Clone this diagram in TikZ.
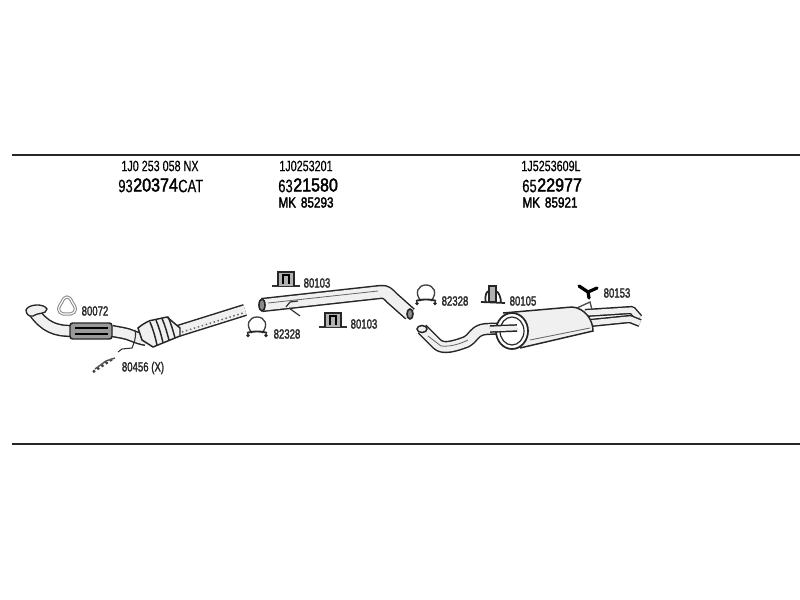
\documentclass[tikz,border=0pt]{standalone}
\usepackage{fontspec}
\setmainfont{Liberation Sans}
\newfontfamily\narrowfont[FakeStretch=0.72,FakeBold=0.3]{Liberation Sans}
\newfontfamily\narrowbold[FakeStretch=0.72,FakeBold=1.6]{Liberation Sans}
\newfontfamily\widebold[FakeStretch=0.86,FakeBold=2.2]{Liberation Sans}
\newfontfamily\marcafont[FakeStretch=0.8,FakeBold=2]{Liberation Sans}
\tikzstyle{numero}=[inner sep=0pt,font=\narrowfont\fontsize{11.2}{12}\selectfont]
\tikzstyle{pieza}=[inner sep=0pt,font=\narrowbold\fontsize{10}{12}\selectfont,text=black!85]
\tikzstyle{pedido}=[inner sep=0pt,font=\narrowfont\fontsize{13.5}{15}\selectfont]
\tikzstyle{grande}=[inner sep=0pt,font=\widebold\fontsize{14}{15}\selectfont]
\tikzstyle{marca}=[inner sep=0pt,font=\marcafont\fontsize{11}{12}\selectfont]
\tikzstyle{tubo}=[draw=black!85,line width=1.1pt,double=black!6,double distance=7pt,line join=round]
\tikzstyle{raya}=[black!60,line width=0.6pt]
\tikzset{
  abrazadera/.pic={
    \draw [black!75,line width=1pt] (-5,5) .. controls (-12,-3) and (-8,-11) .. (0,-11) .. controls (8,-11) and (12,-3) .. (5,5);
    \draw [black!85,line width=1.4pt] (-10,5) .. controls (-5,3) and (5,3) .. (10,5);
    \fill [black!85] (-9,7.5) circle (1.8) (9,7.5) circle (1.8);
  },
  soporte/.pic={
    \draw [black!80,line width=1.2pt] (-14,7) -- (14,7);
    \draw [black!85,line width=1pt,fill=black!30] (-8,7) -- (-8,-7) -- (8,-7) -- (8,7);
    \draw [black,line width=1.6pt] (-3,5) -- (-3,-4) -- (3,-4) -- (3,5);
  }
}
\begin{document}
\begin{tikzpicture}[x=0.75pt,y=-0.75pt]
    \useasboundingbox [fill=white] (0,0) rectangle (800,600);
    % lines
    \coordinate (topleft) at (12,155);
    \coordinate (topright) at (800,155);
    \coordinate (botleft) at (12,444);
    \coordinate (botright) at (800,444);
    \draw [line width=1.4pt,black!85] (topleft) -- (topright);
    \draw [line width=1.4pt,black!85] (botleft) -- (botright);
    % header texts
    \node [numero] (refcat) at (160,166) {1J0 253 058 NX};
    \node [pedido,anchor=east] (predcat) at (133,186) {93};
    \node [grande,anchor=west] (numcat) at (133,185) {20374};
    \node [pedido,anchor=west] (sufcat) at (178,186) {CAT};
    \node [numero] (refmid) at (306,166) {1J0253201};
    \node [pedido,anchor=east] (predmid) at (293,186) {63};
    \node [grande,anchor=west] (nummid) at (293,185) {21580};
    \node [marca] (mkmid) at (306,202.5) {MK\,\,85293};
    \node [numero] (refrear) at (551,166) {1J5253609L};
    \node [pedido,anchor=east] (predrear) at (537,186) {65};
    \node [grande,anchor=west] (numrear) at (537,185) {22977};
    \node [marca] (mkrear) at (550,202.5) {MK\,\,85921};
    % front pipe with catalyst
    \draw [tubo] (34,312) .. controls (45,327) and (55,331) .. (72,331);
    \draw [black!85,line width=1pt,fill=black!6] (26,310) .. controls (28,304) and (44,303) .. (47,309) .. controls (46,315) and (38,312) .. (33,316) .. controls (29,317) and (26,314) .. (26,310) -- cycle;
    \draw [tubo] (112,331) -- (123,333) .. controls (130,334) and (135,338) .. (146,340);
    \draw [black!85,line width=1.1pt,fill=black!40,rounded corners=2pt] (70,323) rectangle (112,339);
    \draw [black,line width=1.4pt] (75,328) -- (108,328) (75,334) -- (108,334);
    \draw [tubo] (178,331) -- (245,310);
    \draw [black!60,dotted,line width=1.1pt] (182,332) -- (243,313);
    \draw [black!85,line width=1.1pt,fill=black!6] (138,328) .. controls (144,323) and (150,320) .. (153,320) -- (167,317) -- (180,328) -- (180,336) -- (153,347) -- (142,340) -- cycle;
    \foreach \dx in {0,6,12,18} {
      \draw [black!85,line width=1.1pt] (150+\dx,322-0.3*\dx) .. controls (153+\dx,329-0.3*\dx) and (155+\dx,336-0.3*\dx) .. (157+\dx,345-0.4*\dx);
    }
    \draw [black!80,line width=0.8pt] (135,330) .. controls (137,338) and (133,345) .. (132,348) -- (122,349) -- (118,352);
    % middle pipe
    \draw [tubo,double distance=8.5pt] (262,305) -- (380,292) .. controls (386,291) and (388,294) .. (392,298) -- (410,314);
    \draw [raya] (268,303) -- (378,291);
    \draw [black!85,line width=1.2pt,fill=black!45] (262,305) ellipse [x radius=3,y radius=6];
    \draw [black!85,line width=1.2pt,fill=black!45] (410,314) ellipse [x radius=3,y radius=5];
    \draw [black!80,line width=0.9pt] (286,307) -- (290,302) -- (298,301) (289,308) -- (300,316);
    % rear pipe with silencer
    \draw [tubo] (422,329) -- (437,344) .. controls (443,350) and (455,346) .. (466,342) .. controls (474,338) and (474,330) .. (486,329) -- (515,328);
    \draw [black!85,line width=1.1pt,fill=black!6] (422,329) ellipse [x radius=5,y radius=3.5];
    \draw [raya] (428,336) -- (441,346) .. controls (450,347) and (460,344) .. (468,340);
    \draw [tubo,double distance=4pt] (585,313) -- (632,310) -- (639,318);
    \draw [tubo,double distance=4pt] (590,323) -- (630,319) -- (640,323);
    \draw [black!85,line width=1.1pt,fill=black!6] (503,313) -- (572,307) .. controls (585,308) and (593,320) .. (593,331) -- (520,348);
    \draw [black!85,line width=1.3pt,fill=white] (512,331) ellipse [x radius=16,y radius=18];
    \draw [black!85,line width=0.9pt] (512,331) ellipse [x radius=12,y radius=14];
    \draw [tubo,double distance=3.5pt] (490,329) -- (517,328);
    \draw [raya] (530,340) -- (590,328);
    \draw [black!70,line width=1pt] (577,308) -- (590,302) -- (592,310);
    % small parts
    \draw [black!45,line width=0.8pt,double=white,double distance=0.8pt] (67,297) .. controls (72,298) and (71,302) .. (74,305) .. controls (78,312) and (72,315) .. (67,314) .. controls (62,315) and (56,312) .. (60,305) .. controls (63,302) and (62,298) .. (67,297) -- cycle;
    \draw [black!75,line width=1.8pt,dotted] (93,372) -- (114,358);
    \draw [black!65,line width=1.1pt] (95,369) -- (106,361) -- (115,358);
    \pic at (257,328) {abrazadera};
    \pic at (286,279) {soporte};
    \pic at (333,320) {soporte};
    \pic at (426,296) {abrazadera};
    % rubber mount
    \draw [black!85,line width=1.3pt,fill=black!30] (489,286) rectangle (496,302);
    \draw [black!85,line width=1.3pt] (486,303) .. controls (484,295) and (487,291) .. (489,291) (496,291) .. controls (499,292) and (501,298) .. (501,303) (481,302) -- (505,303);
    % hook mount
    \draw [black,line width=2.4pt,line cap=round] (579,286) -- (588,292) -- (597,288) (588,292) -- (589,298);
    % part numbers
    \node [pieza] (gasket) at (95,311) {80072};
    \node [pieza] (kit) at (143,368) {80456 (X)};
    \node [pieza] (mounta) at (317,283) {80103};
    \node [pieza] (clampa) at (287,334) {82328};
    \node [pieza] (mountb) at (364,324) {80103};
    \node [pieza] (clampb) at (455,301) {82328};
    \node [pieza] (rubber) at (523,301) {80105};
    \node [pieza] (hook) at (617,293) {80153};
\end{tikzpicture}
\end{document}
